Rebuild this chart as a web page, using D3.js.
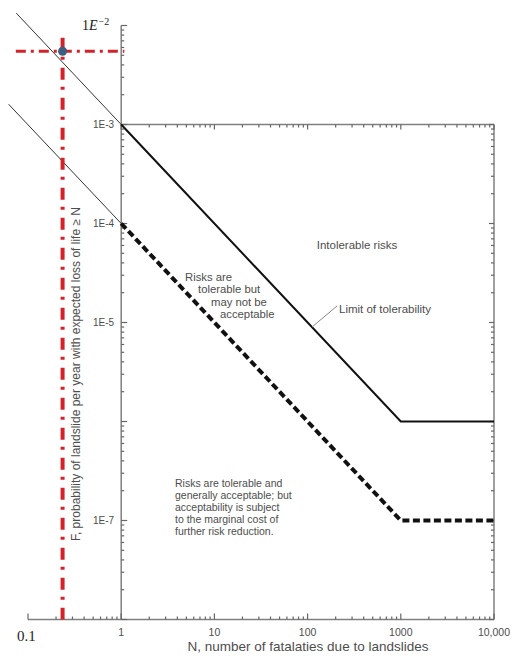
<!DOCTYPE html>
<html>
<head>
<meta charset="utf-8">
<script src="https://cdn.jsdelivr.net/npm/d3@7/dist/d3.min.js"></script>
<style>
  html, body { margin: 0; padding: 0; background: #fff; }
  svg { display: block; font-family: "Liberation Sans", Arial, sans-serif; }
</style>
</head>
<body>
<svg id="chart" width="517" height="656"></svg>
<script>
// F-N criterion lines (N = fatalities, F = annual probability of >= N fatalities)
const limitN = [1, 1000, 10000];
const limitF = [1e-3, 1e-6, 1e-6];
const acceptN = [1, 1000, 10000];
const acceptF = [1e-4, 1e-7, 1e-7];

// Thin extensions of the criterion lines below N = 1
const limitExtN = [0.075, 1];
const limitExtF = [0.0133, 1e-3];
const acceptExtN = [0.062, 1];
const acceptExtF = [0.0016, 1e-4];

// Marked case and its reference lines
const caseN = 0.235;
const caseF = 0.0055;
const caseVLineF = [0.0075, 1e-8];
const caseHLineN = [0.074, 1.08];

// Axis ticks and labels
const nTickValues = [1, 10, 100, 1000, 10000];
const nTickLabels = ["1", "10", "100", "1000", "10,000"];
const fTickValues = [1e-3, 1e-4, 1e-5, 1e-7];
const fTickLabels = ["1E-3", "1E-4", "1E-5", "1E-7"];

const svg = d3.select("#chart");

const x = d3.scaleLog().domain([0.1, 10000]).range([28, 494]);
const y = d3.scaleLog().domain([1e-8, 1e-2]).range([619.5, 25.5]);

const axisColor = "#808080";
const textColor = "#4d4d4d";
const serif = "'Liberation Serif', 'DejaVu Serif', serif";

const xL = x(1), xR = x(10000), yT = y(1e-3), yB = y(1e-8);

// Frame: plot box plus extended left/bottom axes
const frame = svg.append("g").attr("stroke", axisColor).attr("stroke-width", 1.5).attr("fill", "none");
frame.append("line").attr("x1", xL).attr("x2", xR).attr("y1", yT).attr("y2", yT);
frame.append("line").attr("x1", xR).attr("x2", xR).attr("y1", yT).attr("y2", yB);
frame.append("line").attr("x1", x(0.1)).attr("x2", xR).attr("y1", yB).attr("y2", yB);
frame.append("line").attr("x1", xL).attr("x2", xL).attr("y1", y(1e-2)).attr("y2", yB);

// Tick marks (inward): majors at decades, minors at 2..9
const isMajor = v => Math.abs(Math.log10(v) - Math.round(Math.log10(v))) < 1e-9;
const ticks = svg.append("g").attr("stroke", "#666").attr("stroke-width", 1.2);

const bottomTicks = x.ticks();
ticks.selectAll(".tb").data(bottomTicks).join("line")
  .attr("x1", d => x(d)).attr("x2", d => x(d))
  .attr("y1", yB).attr("y2", d => yB - (isMajor(d) ? 6 : 3));
const topTicks = bottomTicks.filter(d => d >= 1);
ticks.selectAll(".tt").data(topTicks).join("line")
  .attr("x1", d => x(d)).attr("x2", d => x(d))
  .attr("y1", yT).attr("y2", d => yT + (isMajor(d) ? 5 : 3));

const leftTicks = y.ticks();
ticks.selectAll(".tl").data(leftTicks).join("line")
  .attr("y1", d => y(d)).attr("y2", d => y(d))
  .attr("x1", xL).attr("x2", d => xL + (isMajor(d) ? 6 : 3));
const rightTicks = leftTicks.filter(d => d <= 1e-3);
ticks.selectAll(".tr").data(rightTicks).join("line")
  .attr("y1", d => y(d)).attr("y2", d => y(d))
  .attr("x1", xR).attr("x2", d => xR - (isMajor(d) ? 5 : 3));

// Tick labels
svg.append("g").selectAll("text").data(nTickValues).join("text")
  .attr("x", d => x(d)).attr("y", 636)
  .attr("text-anchor", "middle").attr("font-size", 10.5).attr("fill", textColor)
  .text((d, i) => nTickLabels[i]);

svg.append("g").selectAll("text").data(fTickValues).join("text")
  .attr("x", xL - 7).attr("y", d => y(d) + 3.5)
  .attr("text-anchor", "end").attr("font-size", 10).attr("fill", textColor)
  .text((d, i) => fTickLabels[i]);

// Serif labels at the extended ends of the axes
svg.append("text").attr("x", 17).attr("y", 641)
  .style("font-family", serif).attr("font-size", 15)
  .attr("fill", "#222").text("0.1");

const eLabel = svg.append("text").attr("x", 82).attr("y", 29.5)
  .style("font-family", serif).attr("font-size", 14)
  .attr("fill", "#222");
eLabel.append("tspan").text("1");
eLabel.append("tspan").attr("font-style", "italic").text("E");
eLabel.append("tspan").attr("font-size", 10).attr("dy", -5).attr("dx", 1).text("\u22122");

// Axis titles
svg.append("text").attr("x", 308).attr("y", 651)
  .attr("text-anchor", "middle").attr("font-size", 13.5).attr("fill", textColor)
  .text("N, number of fatalaties due to landslides");

svg.append("text")
  .attr("transform", `translate(80,${374}) rotate(-90)`)
  .attr("text-anchor", "middle").attr("font-size", 12).attr("fill", textColor)
  .text("F, probability of landslide per year with expected loss of life \u2265 N");

const line = d3.line().x(d => x(d[0])).y(d => y(d[1]));
const zip = (a, b) => a.map((v, i) => [v, b[i]]);

// Thin extension lines
svg.append("path").datum(zip(limitExtN, limitExtF)).attr("d", line)
  .attr("fill", "none").attr("stroke", "#333").attr("stroke-width", 1);
svg.append("path").datum(zip(acceptExtN, acceptExtF)).attr("d", line)
  .attr("fill", "none").attr("stroke", "#333").attr("stroke-width", 1);

// Limit of tolerability (solid) and broadly acceptable limit (dashed)
svg.append("path").datum(zip(limitN, limitF)).attr("d", line)
  .attr("fill", "none").attr("stroke", "#111").attr("stroke-width", 2);
svg.append("path").datum(zip(acceptN, acceptF)).attr("d", line)
  .attr("fill", "none").attr("stroke", "#111").attr("stroke-width", 4)
  .attr("stroke-dasharray", "7,3.5");

// Marked case: dash-dot guide lines and point
const red = "#d3222a";
svg.append("path").datum([[caseN, caseVLineF[0]], [caseN, caseVLineF[1]]]).attr("d", line)
  .attr("fill", "none").attr("stroke", red).attr("stroke-width", 4)
  .attr("stroke-dasharray", "12,7,3,8");
svg.append("path").datum([[caseHLineN[0], caseF], [caseHLineN[1], caseF]]).attr("d", line)
  .attr("fill", "none").attr("stroke", red).attr("stroke-width", 3)
  .attr("stroke-dasharray", "10,5,3,5");
svg.append("circle").attr("cx", x(caseN)).attr("cy", y(caseF)).attr("r", 4.5)
  .attr("fill", "#3c5f80");

// Region annotations
const note = (lines, x0, y0, dy, size, anchor) => {
  svg.append("g").selectAll("text").data(lines).join("text")
    .attr("x", d => x0 + d[1]).attr("y", (d, i) => y0 + i * dy)
    .attr("text-anchor", anchor || "start")
    .attr("font-size", size).attr("fill", textColor)
    .text(d => d[0]);
};
note([["Intolerable risks", 0]], 357, 249, 0, 11.5, "middle");
note([["Risks are", 0], ["tolerable but", 13], ["may not be", 26], ["acceptable", 35]], 185, 281, 12.3, 11.3);
note([["Limit of tolerability", 0]], 339, 313, 0, 11.5);
svg.append("line").attr("x1", 312).attr("y1", 327).attr("x2", 337).attr("y2", 306)
  .attr("stroke", "#888").attr("stroke-width", 1);
note([["Risks are tolerable and", 0], ["generally acceptable; but", 0],
      ["acceptability is subject", 0], ["to the marginal cost of", 0],
      ["further risk reduction.", 0]], 175, 487, 11.9, 10.5);
</script>
</body>
</html>
